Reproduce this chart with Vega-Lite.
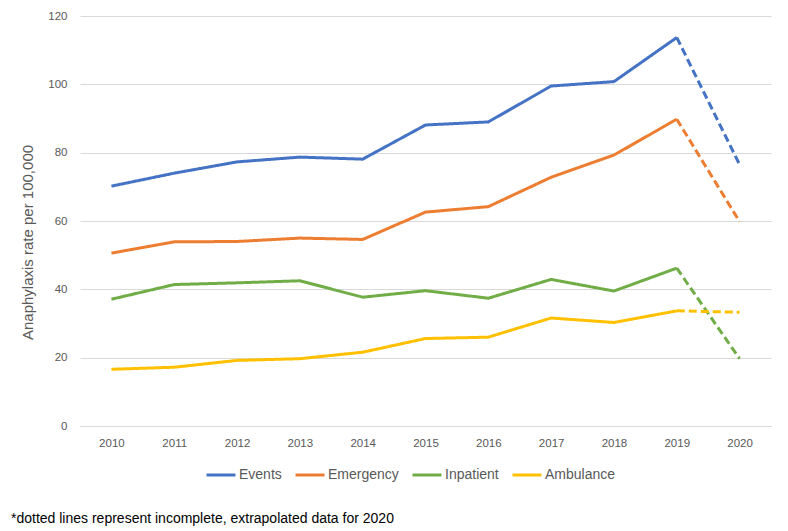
{
  "$schema": "https://vega.github.io/schema/vega-lite/v6.json",
  "width": 691,
  "height": 410,
  "autosize": "none",
  "padding": {"left": 80, "top": 16, "right": 17, "bottom": 105},
  "background": "white",
  "title": {
    "text": "*dotted lines represent incomplete, extrapolated data for 2020",
    "orient": "bottom",
    "anchor": "start",
    "frame": "group",
    "dx": -69,
    "offset": 30,
    "font": "Liberation Sans",
    "fontSize": 14,
    "fontWeight": "normal",
    "color": "#000000"
  },
  "data": {
    "values": [
      {"series": "Events", "year": "2010", "value": 70.2, "part": "observed"},
      {"series": "Events", "year": "2011", "value": 74.0, "part": "observed"},
      {"series": "Events", "year": "2012", "value": 77.3, "part": "observed"},
      {"series": "Events", "year": "2013", "value": 78.7, "part": "observed"},
      {"series": "Events", "year": "2014", "value": 78.1, "part": "observed"},
      {"series": "Events", "year": "2015", "value": 88.1, "part": "observed"},
      {"series": "Events", "year": "2016", "value": 89.0, "part": "observed"},
      {"series": "Events", "year": "2017", "value": 99.5, "part": "observed"},
      {"series": "Events", "year": "2018", "value": 100.8, "part": "observed"},
      {"series": "Events", "year": "2019", "value": 113.7, "part": "observed"},
      {"series": "Events", "year": "2019", "value": 113.7, "part": "extrapolated"},
      {"series": "Events", "year": "2020", "value": 76.5, "part": "extrapolated"},
      {"series": "Emergency", "year": "2010", "value": 50.6, "part": "observed"},
      {"series": "Emergency", "year": "2011", "value": 53.9, "part": "observed"},
      {"series": "Emergency", "year": "2012", "value": 54.0, "part": "observed"},
      {"series": "Emergency", "year": "2013", "value": 55.0, "part": "observed"},
      {"series": "Emergency", "year": "2014", "value": 54.6, "part": "observed"},
      {"series": "Emergency", "year": "2015", "value": 62.6, "part": "observed"},
      {"series": "Emergency", "year": "2016", "value": 64.2, "part": "observed"},
      {"series": "Emergency", "year": "2017", "value": 72.8, "part": "observed"},
      {"series": "Emergency", "year": "2018", "value": 79.3, "part": "observed"},
      {"series": "Emergency", "year": "2019", "value": 89.8, "part": "observed"},
      {"series": "Emergency", "year": "2019", "value": 89.8, "part": "extrapolated"},
      {"series": "Emergency", "year": "2020", "value": 59.8, "part": "extrapolated"},
      {"series": "Inpatient", "year": "2010", "value": 37.1, "part": "observed"},
      {"series": "Inpatient", "year": "2011", "value": 41.4, "part": "observed"},
      {"series": "Inpatient", "year": "2012", "value": 41.9, "part": "observed"},
      {"series": "Inpatient", "year": "2013", "value": 42.5, "part": "observed"},
      {"series": "Inpatient", "year": "2014", "value": 37.7, "part": "observed"},
      {"series": "Inpatient", "year": "2015", "value": 39.6, "part": "observed"},
      {"series": "Inpatient", "year": "2016", "value": 37.4, "part": "observed"},
      {"series": "Inpatient", "year": "2017", "value": 42.9, "part": "observed"},
      {"series": "Inpatient", "year": "2018", "value": 39.5, "part": "observed"},
      {"series": "Inpatient", "year": "2019", "value": 46.2, "part": "observed"},
      {"series": "Inpatient", "year": "2019", "value": 46.2, "part": "extrapolated"},
      {"series": "Inpatient", "year": "2020", "value": 19.7, "part": "extrapolated"},
      {"series": "Ambulance", "year": "2010", "value": 16.6, "part": "observed"},
      {"series": "Ambulance", "year": "2011", "value": 17.2, "part": "observed"},
      {"series": "Ambulance", "year": "2012", "value": 19.2, "part": "observed"},
      {"series": "Ambulance", "year": "2013", "value": 19.7, "part": "observed"},
      {"series": "Ambulance", "year": "2014", "value": 21.6, "part": "observed"},
      {"series": "Ambulance", "year": "2015", "value": 25.6, "part": "observed"},
      {"series": "Ambulance", "year": "2016", "value": 26.0, "part": "observed"},
      {"series": "Ambulance", "year": "2017", "value": 31.6, "part": "observed"},
      {"series": "Ambulance", "year": "2018", "value": 30.3, "part": "observed"},
      {"series": "Ambulance", "year": "2019", "value": 33.7, "part": "observed"},
      {"series": "Ambulance", "year": "2019", "value": 33.7, "part": "extrapolated"},
      {"series": "Ambulance", "year": "2020", "value": 33.3, "part": "extrapolated"}
    ]
  },
  "mark": {"type": "line", "strokeWidth": 3, "strokeCap": "butt", "strokeJoin": "round"},
  "encoding": {
    "x": {
      "field": "year",
      "type": "ordinal",
      "scale": {"padding": 0.5},
      "axis": {
        "title": null,
        "labelAngle": 0,
        "ticks": false,
        "domain": true,
        "domainColor": "#D9D9D9",
        "grid": false,
        "labelPadding": 11,
        "labelFont": "Liberation Sans",
        "labelFontSize": 11.5,
        "labelColor": "#595959"
      }
    },
    "y": {
      "field": "value",
      "type": "quantitative",
      "scale": {"domain": [0, 120], "nice": false},
      "axis": {
        "values": [0, 20, 40, 60, 80, 100, 120],
        "title": "Anaphylaxis rate per 100,000",
        "titleFont": "Liberation Sans",
        "titleFontSize": 15,
        "titleFontWeight": "normal",
        "titleColor": "#595959",
        "titleAngle": 270,
        "titleX": -53,
        "titleY": 226,
        "titleAlign": "center",
        "titleBaseline": "middle",
        "domain": false,
        "ticks": false,
        "labelPadding": 13,
        "labelFont": "Liberation Sans",
        "labelFontSize": 11.5,
        "labelColor": "#595959",
        "gridColor": "#D9D9D9",
        "gridWidth": 1
      }
    },
    "color": {
      "field": "series",
      "type": "nominal",
      "scale": {
        "domain": ["Events", "Emergency", "Inpatient", "Ambulance"],
        "range": ["#4472C4", "#ED7D31", "#70AD47", "#FFC000"]
      },
      "legend": {
        "title": null,
        "orient": "none",
        "direction": "horizontal",
        "legendX": 125,
        "legendY": 443,
        "symbolType": "stroke",
        "symbolSize": 840,
        "symbolStrokeWidth": 3,
        "labelFont": "Liberation Sans",
        "labelFontSize": 14,
        "labelColor": "#595959",
        "labelOffset": 2,
        "columnPadding": 7
      }
    },
    "strokeDash": {
      "field": "part",
      "type": "nominal",
      "scale": {"domain": ["observed", "extrapolated"], "range": [[1, 0], [8, 4]]},
      "legend": null
    }
  },
  "config": {
    "view": {"stroke": null}
  }
}
